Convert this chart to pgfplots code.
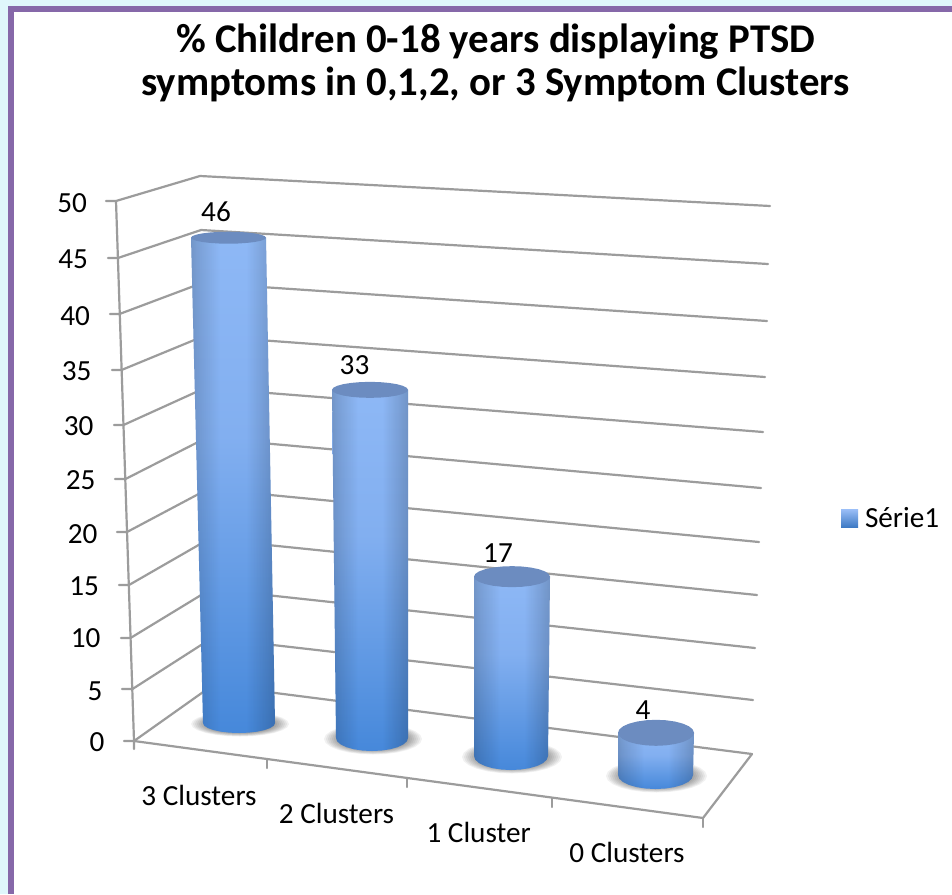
\documentclass[border=0pt]{standalone}
\usepackage{fontspec}
\setmainfont{Carlito}
\usepackage{pgfplots}
\usepackage{pgfplotstable}
\pgfplotsset{compat=1.18}
\usetikzlibrary{fadings}

\definecolor{pagebg}{HTML}{DFF6FB}
\definecolor{framepurple}{HTML}{8668A9}
\definecolor{gridgrey}{HTML}{9C9C9C}
\definecolor{captone}{HTML}{6C8CC0}
\definecolor{keytop}{HTML}{9BBFF8}
\definecolor{keybot}{HTML}{3E7AC4}
\definecolor{bodyA}{HTML}{2F72C6}
\definecolor{bodyB}{HTML}{4688DA}
\definecolor{bodyC}{HTML}{82AFF0}
\definecolor{bodyD}{HTML}{9CC3FC}

% Body colour of a cylinder from base to top.
\pgfdeclareverticalshading{cylinderbody}{100bp}{
  color(0bp)=(bodyA);
  color(25bp)=(bodyB);
  color(55bp)=(bodyC);
  color(100bp)=(bodyD)}

% Darkening across the width of a cylinder: white is full overlay, black none.
\pgfdeclarehorizontalshading{cylindersides}{100bp}{
  color(0bp)=(white!58!black);
  color(10bp)=(white!40!black);
  color(28bp)=(white!14!black);
  color(42bp)=(black);
  color(58bp)=(black);
  color(76bp)=(white!20!black);
  color(90bp)=(white!42!black);
  color(100bp)=(white!62!black)}
\tikzfading[name=cylinderfade, shading=cylindersides]

% One row per category: value, then base and top geometry in picture units.
\pgfplotstableread{
name         value bx    by    brx  bry  tx    trx  try  labx  labdy
{3 Clusters} 46    239   723   36   10   228.5 37.5 6    216   16.5
{2 Clusters} 33    372   738   36   13   370   38   8    354.5 15
{1 Cluster}  17    511   756   37   14   512   38   10.5 498   14
{0 Clusters} 4     655.5 775   37.5 14   656   38   13   643   13
}\bars

% Unit circle, used for caps and shadows.
\pgfplotstableread{
c s
1 0
.9659 .2588
.866 .5
.7071 .7071
.5 .866
.2588 .9659
0 1
-.2588 .9659
-.5 .866
-.7071 .7071
-.866 .5
-.9659 .2588
-1 0
-.9659 -.2588
-.866 -.5
-.7071 -.7071
-.5 -.866
-.2588 -.9659
0 -1
.2588 -.9659
.5 -.866
.7071 -.7071
.866 -.5
.9659 -.2588
}\unitcircle

% Outline of a cylinder body: t=1 on the top rim, t=0 along the front of the base.
\pgfplotstableread{
t c s
1 -1 0
1 1 0
0 1 0
0 .9659 .2588
0 .866 .5
0 .7071 .7071
0 .5 .866
0 .2588 .9659
0 0 1
0 -.2588 .9659
0 -.5 .866
0 -.7071 .7071
0 -.866 .5
0 -.9659 .2588
0 -1 0
}\bodyoutline

% Picture units per percentage point along the height of a cylinder.
\newcommand{\unitheight}{10.55}

\newcommand{\fetch}[3]{\pgfplotstablegetelem{#1}{#2}\of\bars\let#3\pgfplotsretval}

\newcommand{\shadowlayer}[1]{%
  \addplot[forget plot,draw=none,fill=black,fill opacity=0.055]
    table[x expr=\cBX+1+(\cBRX+13)*#1*\thisrow{c},
          y expr=\cBY+1+(\cBRY+2.5)*#1*\thisrow{s}] {\unitcircle};
}

\newcommand{\drawcylinder}[1]{%
  \fetch{#1}{value}\cVAL \fetch{#1}{bx}\cBX \fetch{#1}{by}\cBY
  \fetch{#1}{brx}\cBRX \fetch{#1}{bry}\cBRY \fetch{#1}{tx}\cTX
  \fetch{#1}{trx}\cTRX \fetch{#1}{try}\cTRY
  \shadowlayer{1}\shadowlayer{.96}\shadowlayer{.92}\shadowlayer{.88}
  \shadowlayer{.84}\shadowlayer{.8}\shadowlayer{.76}\shadowlayer{.72}
  \addplot[forget plot,draw=none,shading=cylinderbody]
    table[x expr=\thisrow{t}*(\cTX+\cTRX*\thisrow{c})+(1-\thisrow{t})*(\cBX+\cBRX*\thisrow{c}),
          y expr=\thisrow{t}*(\cBY-\unitheight*\cVAL)+(1-\thisrow{t})*(\cBY+\cBRY*\thisrow{s})] {\bodyoutline};
  \addplot[forget plot,draw=none,fill=black,path fading=cylinderfade,fit fading=true]
    table[x expr=\thisrow{t}*(\cTX+\cTRX*\thisrow{c})+(1-\thisrow{t})*(\cBX+\cBRX*\thisrow{c}),
          y expr=\thisrow{t}*(\cBY-\unitheight*\cVAL)+(1-\thisrow{t})*(\cBY+\cBRY*\thisrow{s})] {\bodyoutline};
  \addplot[forget plot,draw=none,fill=captone]
    table[x expr=\cTX+\cTRX*\thisrow{c},
          y expr=\cBY-\unitheight*\cVAL+\cTRY*\thisrow{s}] {\unitcircle};
}

\begin{document}
\begin{tikzpicture}
\begin{axis}[
  scale only axis, width=952pt, height=894pt,
  xmin=0, xmax=952, ymin=0, ymax=894, y dir=reverse,
  hide axis, clip=true,
  gridstroke/.style={forget plot,color=gridgrey,line width=2.2pt,line cap=round,line join=round,no markers},
  textlabels/.style={forget plot,draw=none,no markers,nodes near coords,point meta=explicit symbolic,
    nodes near coords style={anchor=#1,inner sep=0pt,outer sep=0pt,text=black,
      font=\fontsize{29.2}{34}\selectfont}},
  textlabels/.default=base,
  title={\% Children 0-18 years displaying PTSD\\symptoms in 0,1,2, or 3 Symptom Clusters},
  title style={at={(axis cs:495.5,69)},anchor=center,align=center,yshift=0pt,
    font=\fontsize{40.8}{43}\selectfont\bfseries},
  legend style={at={(axis cs:841,518)},anchor=west,draw=none,fill=none,inner sep=0pt,outer sep=0pt,
    font=\fontsize{29.2}{34}\selectfont,
    nodes={inner sep=0pt,outer sep=0pt},
    /tikz/every even column/.append style={column sep=0pt}},
]
% page, frame and chart area
\addplot[forget plot,draw=none,fill=pagebg] coordinates {(0,0)(952,0)(952,894)(0,894)};
\addplot[forget plot,draw=none,fill=framepurple] coordinates {(8,6)(952,6)(952,894)(8,894)};
\addplot[forget plot,draw=none,fill=white] coordinates {(14,12)(952,12)(952,894)(14,894)};

% gridlines: tick, side wall, back wall
\addplot[gridstroke] coordinates {(106,201)(116,201)(200,176)(770,206)};
\addplot[gridstroke] coordinates {(108,258)(118,258)(201,230)(768,264)};
\addplot[gridstroke] coordinates {(110,314)(119.5,314)(202,283)(767,321)};
\addplot[gridstroke] coordinates {(112,370)(121.5,370)(204,336)(765,377)};
\addplot[gridstroke] coordinates {(114,425)(123.5,425)(205,388)(763,432)};
\addplot[gridstroke] coordinates {(115,479)(125.5,479)(206,438)(761,488)};
\addplot[gridstroke] coordinates {(117,532)(127,532)(208,489)(759,542)};
\addplot[gridstroke] coordinates {(119,585)(129,585)(209,539)(757,595)};
\addplot[gridstroke] coordinates {(121,638)(130.5,638)(211,589)(755,648)};
\addplot[gridstroke] coordinates {(122,689)(132.5,689)(212,638)(753,700)};
\addplot[gridstroke] coordinates {(124,741)(134,741)(213,685)(752,754)};

% value axis edge and floor outline
\addplot[gridstroke] coordinates {(116,201)(134,741)(134,749)};
\addplot[gridstroke] coordinates {(134,741)(703,818)(752,754)};
\addplot[gridstroke] coordinates {(267,759)(267,768)};
\addplot[gridstroke] coordinates {(407,778)(407,787)};
\addplot[gridstroke] coordinates {(552,798)(552,807)};
\addplot[gridstroke] coordinates {(703,818)(703,827)};

% value axis numbers
\addplot[textlabels=base east] table[x=x,y=y,meta=level] {
level x y
50 87 212
45 88 268
40 90 325
35 91.5 380
30 93.5 435
25 95.5 489
20 97.5 543
15 99 595
10 100.5 647
5 102.5 700
0 104.5 751
};

% values above the cylinders, set behind them
\addplot[textlabels] table[x=labx,y expr=\thisrow{by}-\unitheight*\thisrow{value}-\thisrow{labdy},meta=value] {\bars};

\drawcylinder{0}
\drawcylinder{1}
\drawcylinder{2}
\drawcylinder{3}

% category names
\addplot[textlabels] table[x=x,y=y,meta=name] {
name x y
{3 Clusters} 199 805
{2 Clusters} 336.5 823
{1 Cluster} 478.7 842
{0 Clusters} 627 862
};

\addlegendimage{legend image code/.code={
  \path[draw=none,top color=keytop,bottom color=keybot] (0pt,-9pt) rectangle (17pt,9pt);}}
\addlegendentry{\hspace*{7pt}Série1}
\end{axis}
\end{tikzpicture}
\end{document}
